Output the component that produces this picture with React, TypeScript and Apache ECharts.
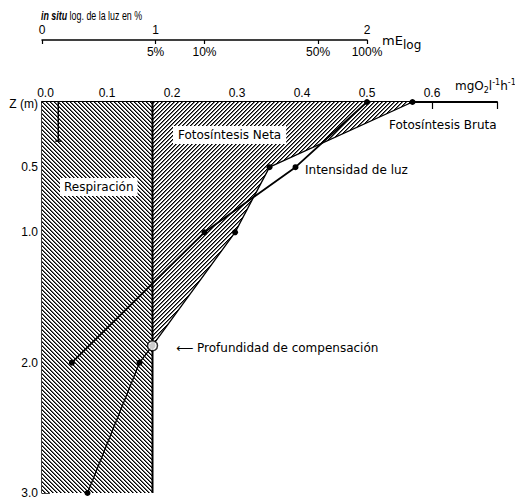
import React, { useEffect, useRef } from "react";
import * as echarts from "echarts";

// ---- data ----
const respiracion = 0.17; // mg O2 l-1 h-1, constant with depth
const profundidadMax = 3.0;
// gross photosynthesis [value, depth]
const fotosintesisBruta: [number, number][] = [
  [0.57, 0],
  [0.35, 0.5],
  [0.297, 1.0],
  [0.17, 1.87],
  [0.15, 2.0],
  [0.07, 3.0],
];
// light intensity plotted on the same frame [value, depth]
const intensidadLuz: [number, number][] = [
  [0.5, 0],
  [0.39, 0.5],
  [0.25, 1.0],
  [0.046, 2.0],
];
const compensacion: [number, number] = [0.17, 1.87];
const marcaSuperficie: [number, number] = [0.025, 0.3];

const yLabelValues = [0, 0.5, 1.0, 2.0, 3.0];
const yTickValues = [0.5, 1.0, 2.0, 3.0];
// light axis (log10 of %)
const luzTickValues = [0, Math.log10(5), 1, Math.log10(50), 2];
const luzPctLabels = ["", "5%", "10%", "50%", "100%"];
const luzLogValues = [0, Math.log10(5), 2];
const luzLogLabels = ["0", "1", "2"];

function makeHatch(dir: "back" | "fwd", size = 4): string {
  const c = document.createElement("canvas");
  c.width = size;
  c.height = size;
  const ctx = c.getContext("2d")!;
  const img = ctx.createImageData(size, size);
  for (let i = 0; i < size * size * 4; i += 4) {
    img.data[i] = 255;
    img.data[i + 1] = 255;
    img.data[i + 2] = 255;
    img.data[i + 3] = 255;
  }
  const setPx = (x: number, y: number, v: number) => {
    const k = (y * size + x) * 4;
    img.data[k] = v;
    img.data[k + 1] = v;
    img.data[k + 2] = v;
  };
  for (let y = 0; y < size; y++) {
    const x0 = dir === "back" ? y : size - 1 - y;
    setPx(x0, y, 0);
    setPx((x0 + 1) % size, y, 110);
  }
  ctx.putImageData(img, 0, 0);
  return c.toDataURL();
}

export default function App() {
  const ref = useRef<HTMLDivElement>(null);
  useEffect(() => {
    if (!ref.current) return;
    const chart = echarts.init(ref.current, null, { renderer: "svg" });
    const hatchBack = { image: makeHatch("back"), repeat: "repeat", imageWidth: 4, imageHeight: 4 };
    const hatchFwd = { image: makeHatch("fwd"), repeat: "repeat", imageWidth: 4, imageHeight: 4 };
    const respPoly: [number, number][] = [
      [0, 0],
      [respiracion, 0],
      [respiracion, profundidadMax],
      [0, profundidadMax],
    ];
    const idx = fotosintesisBruta.findIndex((p) => p[0] === compensacion[0] && p[1] === compensacion[1]);
    const netPoly: [number, number][] = [[respiracion, 0], ...fotosintesisBruta.slice(0, idx + 1)];
    const tickFont = "Liberation Sans";
    const annFont = '12px "DejaVu Sans"';

    const option: any = {
      animation: false,
      backgroundColor: "#fff",
      textStyle: { fontFamily: tickFont, color: "#000" },
      grid: [
        { left: 42, top: 102, width: 455, height: 391, containLabel: false, outerBoundsMode: "none" },
        { left: 42, top: 39, width: 325, height: 1, containLabel: false, outerBoundsMode: "none" },
      ],
      xAxis: [
        {
          type: "value",
          gridIndex: 0,
          position: "top",
          min: 0,
          max: 0.7,
          interval: 0.1,
          splitLine: { show: false },
          axisLine: { show: true, lineStyle: { color: "#000", width: 2 } },
          axisTick: { show: true, inside: true, length: 7, lineStyle: { color: "#000", width: 1.2 } },
          axisLabel: {
            color: "#000",
            fontSize: 12,
            margin: 3,
            formatter: (v: number) => (v > 0.65 ? "" : v === 0 ? "{z|0.0}" : v.toFixed(1)),
            rich: { z: { fontSize: 12, padding: [0, 0, 0, 7] } },
          },
        },
        {
          type: "value",
          gridIndex: 1,
          position: "bottom",
          min: 0,
          max: 2,
          splitLine: { show: false },
          axisLine: { show: true, lineStyle: { color: "#000", width: 1.5 } },
          axisTick: {
            show: true,
            inside: false,
            length: 4,
            customValues: luzTickValues,
            lineStyle: { color: "#000", width: 1.2 },
          },
          axisLabel: {
            color: "#000",
            fontSize: 12,
            margin: 6,
            customValues: luzTickValues,
            formatter: (v: number) => {
              const i = luzTickValues.findIndex((t) => Math.abs(t - v) < 1e-6);
              return i >= 0 ? luzPctLabels[i] : "";
            },
          },
        },
        {
          type: "value",
          gridIndex: 1,
          position: "top",
          min: 0,
          max: 2,
          splitLine: { show: false },
          axisLine: { show: false },
          axisTick: { show: false },
          axisLabel: {
            color: "#000",
            fontSize: 12,
            margin: 3,
            customValues: luzLogValues,
            formatter: (v: number) => {
              const i = luzLogValues.findIndex((t) => Math.abs(t - v) < 1e-6);
              return i >= 0 ? luzLogLabels[i] : "";
            },
          },
        },
      ],
      yAxis: [
        {
          type: "value",
          gridIndex: 0,
          inverse: true,
          min: 0,
          max: profundidadMax,
          splitLine: { show: false },
          axisLine: { show: true, lineStyle: { color: "#000", width: 1.5 } },
          axisTick: {
            show: true,
            inside: true,
            length: 8,
            customValues: yTickValues,
            lineStyle: { color: "#000", width: 1.5 },
          },
          axisLabel: {
            color: "#000",
            fontSize: 12,
            margin: 4,
            customValues: yLabelValues,
            formatter: (v: number) => (v === 0 ? "{z|Z (m)}" : v.toFixed(1)),
            rich: { z: { fontSize: 12, padding: [3, 0, 0, 0] } },
          },
        },
        { type: "value", gridIndex: 1, show: false, min: 0, max: 1 },
      ],
      series: [
        {
          type: "custom",
          name: "areas",
          xAxisIndex: 0,
          yAxisIndex: 0,
          clip: false,
          z: 1,
          data: [[0, 0]],
          renderItem: (_p: any, api: any) => {
            const pts = (arr: [number, number][]) => arr.map((q) => api.coord(q));
            const rTop = api.coord([respiracion, 0]);
            const rBot = api.coord([respiracion, profundidadMax]);
            const mTop = api.coord([marcaSuperficie[0], 0]);
            const mBot = api.coord([marcaSuperficie[0], marcaSuperficie[1]]);
            return {
              type: "group",
              children: [
                { type: "polygon", shape: { points: pts(respPoly) }, style: { fill: hatchBack, stroke: null } },
                { type: "polygon", shape: { points: pts(netPoly) }, style: { fill: hatchFwd, stroke: null } },
                {
                  type: "line",
                  shape: { x1: rTop[0], y1: rTop[1], x2: rBot[0], y2: rBot[1] },
                  style: { stroke: "#000", lineWidth: 2 },
                },
                {
                  type: "line",
                  shape: { x1: mTop[0], y1: mTop[1], x2: mBot[0], y2: mBot[1] },
                  style: { stroke: "#000", lineWidth: 1.5 },
                },
                {
                  type: "line",
                  shape: { x1: mBot[0] - 3, y1: mBot[1], x2: mBot[0] + 3, y2: mBot[1] },
                  style: { stroke: "#000", lineWidth: 1.5 },
                },
              ],
            };
          },
        },
        {
          type: "line",
          name: "Fotosíntesis Bruta",
          xAxisIndex: 0,
          yAxisIndex: 0,
          data: fotosintesisBruta,
          clip: false,
          z: 5,
          symbol: "circle",
          symbolSize: 6,
          itemStyle: { color: "#000" },
          lineStyle: { color: "#000", width: 1.3 },
        },
        {
          type: "line",
          name: "Intensidad de luz",
          xAxisIndex: 0,
          yAxisIndex: 0,
          data: intensidadLuz,
          clip: false,
          z: 5,
          symbol: "circle",
          symbolSize: 6,
          itemStyle: { color: "#000" },
          lineStyle: { color: "#000", width: 1.8 },
        },
        {
          type: "scatter",
          name: "Profundidad de compensación",
          xAxisIndex: 0,
          yAxisIndex: 0,
          data: [compensacion],
          clip: false,
          z: 8,
          symbol: "circle",
          symbolSize: 10,
          itemStyle: { color: "#fff", borderColor: "#000", borderWidth: 1.5 },
        },
      ],
      graphic: [
        {
          type: "text",
          x: 41,
          y: 15,
          z: 20,
          scaleX: 0.74,
          style: {
            text: "{a|in situ} log. de la luz en %",
            font: '12px "Liberation Sans"',
            fill: "#000",
            textVerticalAlign: "middle",
            verticalAlign: "middle",
            rich: {
              a: { fontStyle: "italic", fontWeight: "bold", fontSize: 12, fontFamily: "Liberation Sans" },
            },
          },
        },
        { type: "text", x: 382, y: 40, z: 20, style: { text: "mE", font: '13px "DejaVu Sans"', fill: "#000", verticalAlign: "middle", textVerticalAlign: "middle" } },
        { type: "text", x: 403, y: 45, z: 20, style: { text: "log", font: '12px "DejaVu Sans"', fill: "#000", verticalAlign: "middle", textVerticalAlign: "middle" } },
        {
          type: "text",
          x: 455,
          y: 86,
          z: 20,
          style: {
            text: "{m|mgO}{s|2}{m|l}{p|-1}{m|h}{p|-1}",
            fill: "#000",
            verticalAlign: "middle",
            textVerticalAlign: "middle",
            rich: {
              m: { fontSize: 12, fontFamily: "DejaVu Sans", lineHeight: 16, verticalAlign: "middle" },
              s: { fontSize: 8, fontFamily: "DejaVu Sans", lineHeight: 10, verticalAlign: "bottom" },
              p: { fontSize: 8, fontFamily: "DejaVu Sans", lineHeight: 10, verticalAlign: "top" },
            },
          },
        },
        { type: "text", x: 389, y: 125, z: 20, style: { text: "Fotosíntesis Bruta", font: annFont, fill: "#000", verticalAlign: "middle", textVerticalAlign: "middle" } },
        { type: "text", x: 305, y: 170, z: 20, style: { text: "Intensidad de luz", font: annFont, fill: "#000", verticalAlign: "middle", textVerticalAlign: "middle" } },
        { type: "text", x: 176, y: 348, z: 20, style: { text: "⟵ Profundidad de compensación", font: annFont, fill: "#000", verticalAlign: "middle", textVerticalAlign: "middle" } },
        {
          type: "text",
          x: 173,
          y: 135,
          z: 20,
          style: {
            text: "Fotosíntesis Neta",
            font: annFont,
            fill: "#000",
            backgroundColor: "#fff",
            padding: [3, 5, 3, 5],
            verticalAlign: "middle",
            textVerticalAlign: "middle",
          },
        },
        {
          type: "text",
          x: 60,
          y: 187,
          z: 20,
          style: {
            text: "Respiración",
            font: annFont,
            fill: "#000",
            backgroundColor: "#fff",
            padding: [3, 4, 3, 4],
            verticalAlign: "middle",
            textVerticalAlign: "middle",
          },
        },
      ],
    };
    chart.setOption(option);
    return () => chart.dispose();
  }, []);
  return <div ref={ref} style={{ position: "fixed", left: 0, top: 0, width: 515, height: 504 }} />;
}
